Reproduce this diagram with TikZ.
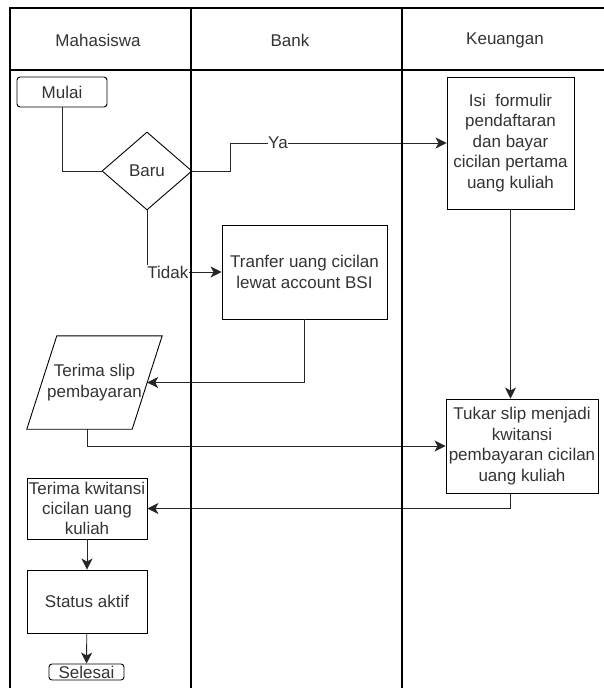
\documentclass[tikz,border=0pt]{standalone}
\usepackage{fontspec}
\setmainfont{Liberation Sans}
\usetikzlibrary{arrows.meta,shapes.geometric}

\begin{document}
\begin{tikzpicture}[x=1pt,y=-1pt]
\tikzstyle{every node}+=[inner sep=0pt,text=black!80,align=center,font=\fontsize{17}{20.4}\selectfont]
\tikzstyle{proses}=[draw=black,line width=0.9pt,rectangle]
\tikzstyle{terminal}=[draw=black,line width=0.9pt,rectangle,rounded corners=3pt]
\tikzstyle{keputusan}=[draw=black,line width=0.9pt,diamond]
\tikzstyle{garis}=[draw=black!85,line width=0.9pt]
\tikzstyle{alur}=[garis,-{Stealth[length=11pt,width=11pt,inset=3pt]}]
\tikzstyle{ket}=[fill=white,inner sep=0.5pt]
\tikzstyle{lajur}=[draw=black,line width=1.2pt]
\useasboundingbox (0,0) rectangle (604,688);
\node (hdmhs) at (98,40) {Mahasiswa};
\node (hdbank) at (290,40) {Bank};
\node (hdkeu) at (505,40) {Keuangan};
\node [terminal,minimum width=90,minimum height=30] (mulai) at (62,92) {Mulai};
\node [keputusan,minimum width=90,minimum height=78] (baru) at (147,171) {Baru};
\node [proses,minimum width=127,minimum height=132] (isi) at (510.5,143) {Isi\ \ formulir\\pendaftaran\\dan bayar\\cicilan pertama\\uang kuliah};
\node [proses,minimum width=165,minimum height=94] (tranfer) at (304.5,272) {Tranfer uang cicilan\\lewat account BSI};
\node [minimum width=105,minimum height=93] (slip) at (94.5,382.5) {Terima slip\\pembayaran};
\draw [black,line width=0.9pt] ([xshift=-15]slip.south west) -- ([xshift=-15]slip.south east) -- ([xshift=15]slip.north east) -- ([xshift=15]slip.north west) -- cycle;
\node [proses,minimum width=152,minimum height=94] (tukar) at (522,446) {Tukar slip menjadi\\kwitansi\\pembayaran cicilan\\uang kuliah};
\node [proses,minimum width=120,minimum height=61] (kwit) at (87,508.5) {Terima kwitansi\\cicilan uang\\kuliah};
\node [proses,minimum width=120,minimum height=63] (status) at (87,601.5) {Status aktif};
\node [terminal,minimum width=75,minimum height=16] (selesai) at (86.5,672) {Selesai};
\draw [garis] (mulai.south) |- (baru.west);
\draw [alur] (baru.east) -- ++(38,0) |- node[ket,pos=0.61] {Ya} (isi.west);
\draw [alur] (baru.south) |- node[ket,pos=0.64] {Tidak} (tranfer.west);
\draw [alur] (tranfer.south) |- (slip.east);
\draw [alur] (slip.south -| kwit.north) |- (tukar.west);
\draw [alur] (isi.south) -- (isi.south |- tukar.north);
\draw [alur] (isi.south |- tukar.south) |- (kwit.east);
\draw [alur] (kwit) -- (status);
\draw [alur] (status) -- (selesai);
\draw [lajur] (10,688) -- (10,8) -- (630,8);
\draw [lajur] (10,70) -- (630,70);
\draw [lajur] (191,8) -- (191,688);
\draw [lajur] (402,8) -- (402,688);
\end{tikzpicture}
\end{document}
